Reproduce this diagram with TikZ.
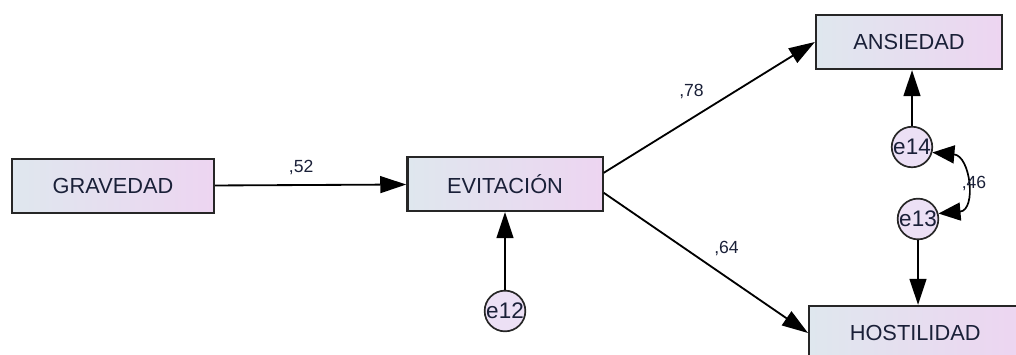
\documentclass[tikz,border=0pt]{standalone}
\usepackage{fontspec}
\setmainfont{Liberation Sans}
\usepackage{xcolor}
\usetikzlibrary{positioning, shapes.geometric}
\usetikzlibrary{arrows, arrows.meta}
\definecolor{txtblue}{HTML}{1A2038}
\definecolor{boxleft}{HTML}{DFE7EE}
\definecolor{boxright}{HTML}{EDD5F1}
\definecolor{errfill}{HTML}{ECE0F5}
\tikzset{ varbox/.style={draw=black!85, line width=1.6pt,
            left color=boxleft, right color=boxright,
            minimum height=1.35cm, text=txtblue,
            font=\fontsize{15.5}{18}\selectfont},
        errc/.style={circle, draw=black!85, line width=1.2pt, fill=errfill,
            minimum size=1cm, inner sep=0pt, text=txtblue,
            font=\fontsize{16}{18}\selectfont},
        path/.style={line width=1.3pt, -{Triangle[length=6.5mm,width=4.2mm]}},
        coef/.style={text=txtblue, font=\fontsize{12.5}{14}\selectfont}}

\begin{document}
\begin{tikzpicture}[x=0.025cm, y=-0.025cm]
\useasboundingbox (0,0) rectangle (1016,354);

\node[varbox, minimum width=5.05cm] (grav) at (113,186) {GRAVEDAD};
\node[varbox, minimum width=4.88cm] (evit) at (505,184) {EVITACIÓN};
\node[varbox, minimum width=4.65cm] (ans) at (909,42) {ANSIEDAD};
\node[varbox, minimum width=5.3cm, anchor=west] (host) at (808,333) {HOSTILIDAD};

\node[errc] (e12) at (505,311) {e12};
\node[errc] (e14) at (912,147) {e14};
\node[errc] (e13) at (918,219) {e13};

\coordinate (ea) at ([yshift=0.28cm]evit.east);
\coordinate (eh) at ([yshift=-0.22cm]evit.east);

%regression weights
\draw[path] (grav) -- (evit)
  node[coef, pos=0.45, above=3pt]{,52};
\draw[path] (ea) -- (ans.west)
  node[coef, midway, above left=2pt and 0pt]{,78};
\draw[path] (eh) -- (host.west)
  node[coef, midway, above right=1pt and 2pt]{,64};

%residuals
\draw[path] (e12) -- (evit);
\draw[path] (e14.north) -- (e14.north |- ans.south);
\draw[path] (e13.south) -- (e13.south |- host.north);

%covariance
\draw[line width=1.2pt, {Triangle[length=5.5mm,width=4.5mm]}-{Triangle[length=5.5mm,width=4.5mm]}]
  (e14.-15) to[out=-5, in=5, looseness=1.6] (e13.15);
\node[coef] (cov) at (974,183) {,46};

\end{tikzpicture}
\end{document}
